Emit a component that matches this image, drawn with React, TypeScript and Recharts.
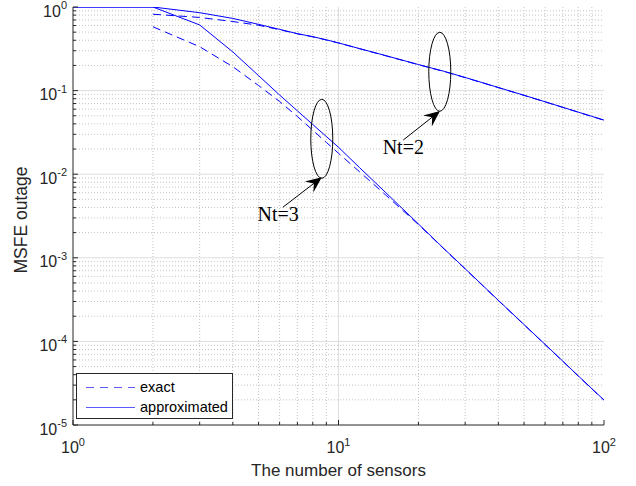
import {
  LineChart,
  Line,
  XAxis,
  YAxis,
  CartesianGrid,
  ReferenceLine,
  ReferenceDot,
  Legend,
} from "recharts";

// values (log-log)
const sensors = [1, 2, 3, 4, 5, 6, 7, 8, 9, 10, 12, 15, 20, 25, 30, 40, 50, 60, 70, 80, 90, 100];
const approxNt2 = [1, 1, 0.855, 0.73, 0.62, 0.54, 0.48, 0.442, 0.405, 0.372, 0.318, 0.263, 0.205, 0.17, 0.1435, 0.109, 0.0879, 0.0735, 0.0631, 0.0553, 0.0492, 0.0444];
const exactNt2 = [null, 0.82, 0.75, 0.67, 0.605, 0.535, 0.478, 0.44, 0.403, 0.371, 0.317, 0.262, 0.204, 0.169, 0.143, 0.1085, 0.0876, 0.0733, 0.0629, 0.0551, 0.049, 0.0442];
const approxNt3 = [1, 1, 0.61, 0.29, 0.151, 0.0885, 0.0573, 0.0393, 0.0282, 0.021, 0.012, 0.0061, 0.00254, 0.00128, 0.00074, 0.00031, 0.000159, 0.000092, 0.000058, 0.0000387, 0.0000272, 0.0000199];
const exactNt3 = [null, 0.58, 0.335, 0.193, 0.115, 0.074, 0.049, 0.0336, 0.024, 0.0178, 0.0107, 0.0057, 0.0025, 0.00127, 0.000735, 0.000308, 0.000158, 0.0000915, 0.0000577, 0.0000385, 0.000027, 0.0000198];

// axis ticks: decades get labels, 2..9 are minor
const xDecades = [0, 1];
const yDecades = [-5, -4, -3, -2, -1];
const mantissas = [1, 2, 3, 4, 5, 6, 7, 8, 9];
const xTicks = [...xDecades.flatMap((d) => mantissas.map((m) => m * 10 ** d)), 100];
const yTicks = [...yDecades.flatMap((d) => mantissas.map((m) => m * 10 ** d)), 1];
const xMajor = [10];
const yMajor = [1e-4, 1e-3, 1e-2, 1e-1];
const xMinor = xTicks.filter((v) => !isDecade(v));
const yMinor = yTicks.filter((v) => !isDecade(v));

// annotations: ellipse centre, arrow tail/tip, text anchor (data coords)
const groupLabels = ["Nt=3", "Nt=2"];
const ellipseCentres = [[8.65, 0.0265], [24.07, 0.168]];
const arrowTails = [[6.17, 0.00402], [17.54, 0.02566]];
const arrowTips = [[8.65, 0.00918], [24.12, 0.057]];
const labelAnchors = [[5.93, 0.00278], [17.54, 0.01744]];

const legendItems = [
  { label: "exact", dash: "8 6" },
  { label: "approximated", dash: undefined },
];

const chartData = sensors.map((n, i) => ({
  n,
  approx2: approxNt2[i],
  exact2: exactNt2[i],
  approx3: approxNt3[i],
  exact3: exactNt3[i],
}));

function isDecade(v: number) {
  const e = Math.round(Math.log10(v));
  return Math.abs(v / 10 ** e - 1) < 1e-6;
}
const expOf = (v: number) => Math.round(Math.log10(v));

const AXIS = "#262626";
const BLUE = "#0000ff";
const SANS = "'Liberation Sans', Arial, Helvetica, sans-serif";
const SERIF = "'Liberation Serif', 'Times New Roman', serif";

const tickLen = (v: number) => (isDecade(v) ? 5 : 3);

const BottomTick = (props: any) => {
  const { x, y, payload } = props;
  const v = payload.value;
  return (
    <g>
      <line x1={x} y1={y} x2={x} y2={y - tickLen(v)} stroke={AXIS} />
      {isDecade(v) && (
        <text x={x} y={y + 28} textAnchor="middle" fill={AXIS} fontSize={16} fontFamily={SANS}>
          10<tspan dy={-7.5} fontSize={11}>{expOf(v)}</tspan>
        </text>
      )}
    </g>
  );
};

const TopTick = (props: any) => {
  const { x, y, payload } = props;
  return <line x1={x} y1={y} x2={x} y2={y + tickLen(payload.value)} stroke={AXIS} />;
};

const LeftTick = (props: any) => {
  const { x, y, payload } = props;
  const v = payload.value;
  return (
    <g>
      <line x1={x} y1={y} x2={x + tickLen(v)} y2={y} stroke={AXIS} />
      {isDecade(v) && (
        <text x={x - 6} y={y + 9.5} textAnchor="end" fill={AXIS} fontSize={16} fontFamily={SANS}>
          10<tspan dy={-7.5} fontSize={11}>{expOf(v)}</tspan>
        </text>
      )}
    </g>
  );
};

const RightTick = (props: any) => {
  const { x, y, payload } = props;
  return <line x1={x} y1={y} x2={x - tickLen(payload.value)} y2={y} stroke={AXIS} />;
};

const ArrowShape = (props: any) => {
  const { x1, y1, x2, y2 } = props;
  const len = Math.hypot(x2 - x1, y2 - y1);
  const ux = (x2 - x1) / len;
  const uy = (y2 - y1) / len;
  const px = -uy;
  const py = ux;
  const L = 16;
  const W = 7;
  const notch = 10;
  const head = [
    [x2, y2],
    [x2 - L * ux + W * px, y2 - L * uy + W * py],
    [x2 - notch * ux, y2 - notch * uy],
    [x2 - L * ux - W * px, y2 - L * uy - W * py],
  ]
    .map((p) => p.join(","))
    .join(" ");
  return (
    <g>
      <line x1={x1} y1={y1} x2={x2 - notch * ux} y2={y2 - notch * uy} stroke="#000" strokeWidth={1} />
      <polygon points={head} fill="#000" />
    </g>
  );
};

const LegendBox = () => (
  <div
    style={{
      boxSizing: "border-box",
      width: 157,
      height: 46,
      border: `1px solid ${AXIS}`,
      background: "#fff",
      paddingTop: 3,
      paddingLeft: 9,
      fontFamily: SANS,
      fontSize: 14.5,
      color: "#000",
    }}
  >
    {legendItems.map((item) => (
      <div key={item.label} style={{ display: "flex", alignItems: "center", height: 20 }}>
        <svg width={50} height={10} style={{ marginRight: 4 }}>
          <line x1={0} y1={5.5} x2={49} y2={5.5} stroke="#5a5aff" strokeDasharray={item.dash} />
        </svg>
        <span>{item.label}</span>
      </div>
    ))}
  </div>
);

export default function App() {
  return (
    <div style={{ position: "absolute", left: 0, top: 0, width: 636, height: 486, background: "#fff" }}>
      <LineChart width={636} height={486} data={chartData} margin={{ top: 7, right: 32, bottom: 0, left: 0 }}>
        <CartesianGrid
          xAxisId="b"
          yAxisId="l"
          verticalValues={xMinor}
          horizontalValues={yMinor}
          stroke="#c4c4c4"
          strokeDasharray="1 2"
        />
        <CartesianGrid xAxisId="b" yAxisId="l" verticalValues={xMajor} horizontalValues={yMajor} stroke="#dedede" />

        <XAxis
          xAxisId="b"
          dataKey="n"
          type="number"
          scale="log"
          domain={[1, 100]}
          allowDataOverflow
          ticks={xTicks}
          interval={0}
          tickSize={0}
          tickMargin={0}
          tickLine={false}
          tick={BottomTick}
          axisLine={{ stroke: AXIS }}
          height={61}
          label={{
            content: (p: any) => (
              <text
                x={p.viewBox.x + p.viewBox.width / 2}
                y={p.viewBox.y + 51}
                textAnchor="middle"
                fill={AXIS}
                fontSize={17}
                fontFamily={SANS}
              >
                The number of sensors
              </text>
            ),
          }}
        />
        <XAxis
          xAxisId="t"
          orientation="top"
          dataKey="n"
          type="number"
          scale="log"
          domain={[1, 100]}
          allowDataOverflow
          ticks={xTicks}
          interval={0}
          tickSize={0}
          tickMargin={0}
          tickLine={false}
          tick={TopTick}
          axisLine={{ stroke: AXIS }}
          height={0}
        />
        <YAxis
          yAxisId="l"
          type="number"
          scale="log"
          domain={[1e-5, 1]}
          allowDataOverflow
          ticks={yTicks}
          interval={0}
          tickSize={0}
          tickMargin={0}
          tickLine={false}
          tick={LeftTick}
          axisLine={{ stroke: AXIS }}
          width={73}
          label={{
            content: (p: any) => {
              const cx = p.viewBox.x + 21;
              const cy = p.viewBox.y + p.viewBox.height / 2 + 4;
              return (
                <text
                  x={cx}
                  y={cy}
                  dy={6}
                  transform={`rotate(-90, ${cx}, ${cy})`}
                  textAnchor="middle"
                  fill={AXIS}
                  fontSize={17.5}
                  fontFamily={SANS}
                >
                  MSFE outage
                </text>
              );
            },
          }}
        />
        <YAxis
          yAxisId="r"
          orientation="right"
          type="number"
          scale="log"
          domain={[1e-5, 1]}
          allowDataOverflow
          ticks={yTicks}
          interval={0}
          tickSize={0}
          tickMargin={0}
          tickLine={false}
          tick={RightTick}
          axisLine={{ stroke: AXIS }}
          width={0}
        />

        <Line xAxisId="b" yAxisId="l" dataKey="exact2" stroke={BLUE} strokeWidth={1} strokeDasharray="8 5" dot={false} isAnimationActive={false} />
        <Line xAxisId="b" yAxisId="l" dataKey="approx2" stroke={BLUE} strokeWidth={1} dot={false} isAnimationActive={false} />
        <Line xAxisId="b" yAxisId="l" dataKey="exact3" stroke={BLUE} strokeWidth={1} strokeDasharray="8 5" dot={false} isAnimationActive={false} />
        <Line xAxisId="b" yAxisId="l" dataKey="approx3" stroke={BLUE} strokeWidth={1} dot={false} isAnimationActive={false} />

        {groupLabels.map((g, i) => (
          <ReferenceDot
            key={`e-${g}`}
            xAxisId="b"
            yAxisId="l"
            x={ellipseCentres[i][0]}
            y={ellipseCentres[i][1]}
            shape={(p: any) => <ellipse cx={p.cx} cy={p.cy} rx={11} ry={39.5} fill="none" stroke="#000" strokeWidth={1} />}
          />
        ))}
        {groupLabels.map((g, i) => (
          <ReferenceLine
            key={`a-${g}`}
            xAxisId="b"
            yAxisId="l"
            segment={[
              { x: arrowTails[i][0], y: arrowTails[i][1] },
              { x: arrowTips[i][0], y: arrowTips[i][1] },
            ]}
            shape={ArrowShape}
          />
        ))}
        {groupLabels.map((g, i) => (
          <ReferenceDot
            key={`t-${g}`}
            xAxisId="b"
            yAxisId="l"
            x={labelAnchors[i][0]}
            y={labelAnchors[i][1]}
            shape={(p: any) => (
              <text x={p.cx} y={p.cy} textAnchor="middle" fill="#000" fontSize={20} fontFamily={SERIF}>
                {g}
              </text>
            )}
          />
        ))}

        <Legend
          layout="horizontal"
          verticalAlign="middle"
          align="center"
          wrapperStyle={{ left: 76, top: 373, width: 157, height: 46 }}
          content={LegendBox}
        />
      </LineChart>
    </div>
  );
}
